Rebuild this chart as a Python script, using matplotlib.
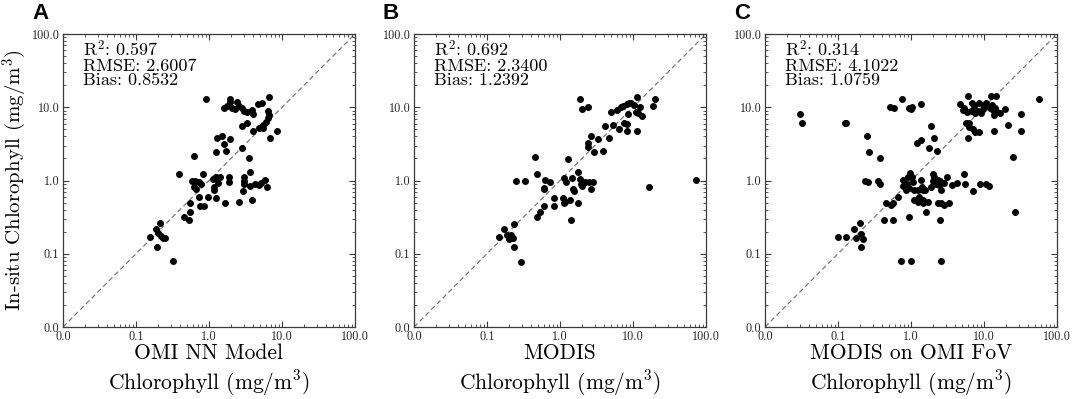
import matplotlib
matplotlib.use('Agg')
import matplotlib.pyplot as plt
from matplotlib.ticker import LogLocator, FuncFormatter, NullFormatter

plt.rcParams['font.family'] = 'cmr10'
plt.rcParams['mathtext.fontset'] = 'cm'
plt.rcParams['axes.unicode_minus'] = False
plt.rcParams['axes.formatter.use_mathtext'] = True

# ---------------- data ----------------
panel_letters = ['A', 'B', 'C']
x_titles = ['OMI NN Model', 'MODIS', 'MODIS on OMI FoV']
r2_vals = ['0.597', '0.692', '0.314']
rmse_vals = ['2.6007', '2.3400', '4.1022']
bias_vals = ['0.8532', '1.2392', '1.0759']
axis_limits = [0.01, 100.0]

# Panel A: OMI NN model vs in-situ
a_x = [0.92, 1.96, 1.92, 1.59, 1.77, 2.07, 2.43, 2.55, 2.30, 2.84,
       2.99, 3.33, 3.90, 3.98, 4.66, 5.36, 6.60, 6.40, 6.60, 6.40,
       5.95, 5.53, 4.81, 5.53, 4.03, 3.33, 2.84, 8.43, 6.75, 1.29,
       1.51, 1.92, 1.62, 1.25, 1.71, 2.84, 0.63, 3.55, 3.70, 0.84,
       0.39, 0.58, 0.65, 0.72, 0.78, 0.63, 0.67, 1.14, 1.26, 1.40,
       1.31, 1.16, 1.18, 1.86, 1.88, 0.74, 0.96, 1.26, 1.68, 0.55,
       0.76, 0.86, 0.55, 0.45, 0.54, 2.99, 3.06, 3.06, 3.70, 4.33,
       4.81, 5.08, 5.77, 6.14, 2.94, 2.59, 3.85, 0.214, 0.188, 0.203,
       0.156, 0.219, 0.233, 0.251, 0.196, 0.326]
a_y = [12.9, 12.9, 11.9, 9.84, 10.5, 9.66, 11.7, 10.5, 9.45, 9.84,
       8.87, 8.68, 9.16, 8.00, 11.0, 11.3, 13.9, 8.87, 7.82, 7.19,
       6.22, 5.71, 5.15, 5.15, 4.73, 6.03, 5.53, 4.73, 3.83, 3.76,
       4.08, 3.64, 3.14, 2.42, 2.52, 2.80, 2.13, 2.00, 1.29, 1.21,
       1.22, 0.99, 0.99, 0.96, 0.91, 0.82, 0.76, 1.04, 1.10, 1.10,
       0.93, 0.81, 0.74, 1.12, 0.96, 0.59, 0.59, 0.575, 0.50, 0.49,
       0.45, 0.45, 0.37, 0.32, 0.29, 1.12, 0.99, 0.91, 0.84, 0.89,
       0.865, 0.93, 1.01, 0.82, 0.72, 0.51, 0.54, 0.26, 0.22, 0.193,
       0.170, 0.174, 0.162, 0.162, 0.124, 0.079]

# Panel B: MODIS vs in-situ
b_x = [1.88, 1.98, 2.44, 4.92, 5.95, 6.75, 7.34, 8.15, 8.87, 9.53,
       10.3, 11.4, 12.4, 10.9, 11.8, 8.59, 13.1, 18.5, 19.9, 4.17,
       5.36, 6.47, 7.57, 8.15, 8.32, 11.4, 4.72, 2.63, 3.34, 2.39,
       2.44, 2.92, 3.91, 1.27, 0.45, 0.49, 0.62, 0.74, 0.60, 0.60,
       1.15, 1.21, 1.44, 1.78, 1.88, 1.91, 2.20, 2.52, 2.86, 1.52,
       1.57, 1.98, 2.63, 0.83, 0.84, 0.60, 1.09, 1.17, 1.15, 1.37,
       1.74, 1.40, 0.53, 0.48, 16.6, 73.8, 0.25, 0.33, 0.144, 0.173,
       0.187, 0.201, 0.212, 0.226, 0.235, 0.235, 0.296]
b_y = [12.9, 9.35, 9.96, 8.51, 9.16, 9.96, 10.4, 11.1, 11.3, 11.5,
       10.7, 13.9, 9.96, 8.69, 8.25, 8.07, 7.58, 10.4, 12.8, 5.60,
       5.72, 5.04, 6.02, 5.83, 4.73, 4.73, 3.75, 4.04, 3.64, 3.21,
       2.83, 2.47, 2.52, 1.96, 2.11, 1.22, 1.01, 0.94, 0.80, 0.76,
       1.07, 0.96, 1.07, 1.32, 1.05, 0.91, 0.96, 0.96, 0.96, 0.76,
       0.72, 0.85, 0.76, 0.57, 0.45, 0.45, 0.57, 0.51, 0.49, 0.54,
       0.49, 0.29, 0.37, 0.32, 0.82, 1.03, 1.00, 1.00, 0.170, 0.218,
       0.183, 0.161, 0.179, 0.166, 0.253, 0.124, 0.078]

# Panel C: MODIS on OMI FoV vs in-situ
c_x = [0.030, 0.032, 0.123, 0.129, 0.25, 0.27, 0.38, 0.51, 0.59, 0.75,
       0.93, 1.00, 1.03, 1.37, 1.88, 1.37, 1.21, 2.04, 1.78, 2.24,
       5.95, 4.72, 5.08, 5.36, 5.77, 6.82, 7.34, 8.15, 8.59, 7.57,
       9.05, 10.05, 10.8, 11.5, 12.4, 12.0, 12.8, 13.3, 14.8, 13.8,
       15.3, 16.5, 19.5, 5.65, 6.14, 6.27, 6.96, 7.57, 8.41, 6.08,
       31.9, 31.9, 13.8, 21.6, 25.3, 6.6, 9.7, 14.3, 56.8, 26.7,
       0.235, 0.26, 0.35, 0.38, 0.77, 0.90, 0.97, 1.03, 1.05, 0.87,
       0.77, 0.95, 0.85, 1.37, 1.41, 1.11, 1.23, 1.44, 1.57, 1.88,
       1.98, 2.08, 2.02, 2.20, 2.31, 2.44, 2.57, 2.49, 3.07, 2.86,
       3.63, 4.21, 5.36, 5.53, 6.96, 8.87, 10.6, 11.8, 1.11, 1.23,
       1.30, 1.44, 1.47, 1.69, 2.31, 2.57, 2.86, 3.27, 0.45, 0.53,
       0.57, 0.66, 0.43, 0.56, 0.93, 1.60, 2.49, 0.0995, 0.127, 0.168,
       0.177, 0.203, 0.207, 0.223, 0.207, 0.73, 1.00, 2.57]
c_y = [8.07, 6.01, 6.01, 6.01, 4.08, 2.47, 2.00, 10.0, 9.64, 12.9,
       9.64, 9.34, 10.0, 11.0, 5.53, 3.56, 3.20, 3.75, 2.74, 2.52,
       14.2, 11.0, 9.15, 9.64, 8.68, 11.3, 10.4, 8.96, 11.5, 8.24,
       8.24, 10.7, 11.5, 10.4, 14.2, 9.64, 10.7, 9.15, 14.2, 7.82,
       8.68, 8.24, 9.34, 6.01, 6.14, 5.41, 4.98, 4.63, 4.63, 3.75,
       8.06, 4.72, 4.72, 5.70, 2.11, 8.96, 9.34, 9.9, 12.9, 0.37,
       1.00, 0.96, 0.99, 0.89, 1.03, 1.10, 1.27, 1.10, 0.96, 0.89,
       0.84, 0.78, 0.75, 1.03, 0.82, 0.74, 0.74, 0.75, 0.75, 0.82,
       1.22, 1.10, 0.99, 0.91, 1.03, 0.86, 0.75, 0.99, 1.10, 0.93,
       0.86, 0.93, 1.22, 0.91, 0.72, 0.91, 0.91, 0.85, 0.55, 0.51,
       0.59, 0.55, 0.50, 0.51, 0.50, 0.49, 0.46, 0.49, 0.49, 0.46,
       0.49, 0.59, 0.29, 0.29, 0.32, 0.37, 0.29, 0.170, 0.170, 0.221,
       0.165, 0.259, 0.185, 0.158, 0.124, 0.079, 0.079, 0.079]

xs = [a_x, b_x, c_x]
ys = [a_y, b_y, c_y]

# ---------------- layout ----------------
W, H = 1072, 399
fig = plt.figure(figsize=(W / 100, H / 100), dpi=100)
ax_lefts = [63, 414, 765]
ax_w, ax_h, ax_bottom = 292, 293, 72

spine_col = '#3a3a3a'
fmt = FuncFormatter(lambda v, p: '{:.1f}'.format(v))

for i in range(3):
    ax = fig.add_axes([ax_lefts[i] / W, ax_bottom / H, ax_w / W, ax_h / H])
    ax.set_xscale('log')
    ax.set_yscale('log')
    ax.plot(axis_limits, axis_limits, ls=(0, (4, 2.5)), color='#7a7a7a', lw=0.9, zorder=1)
    ax.scatter(xs[i], ys[i], s=25, c='black', linewidths=0, zorder=3)
    ax.set_xlim(axis_limits)
    ax.set_ylim(axis_limits)
    for axis in (ax.xaxis, ax.yaxis):
        axis.set_major_locator(LogLocator(base=10, numticks=10))
        axis.set_minor_locator(LogLocator(base=10, subs=range(2, 10), numticks=20))
        axis.set_major_formatter(fmt)
        axis.set_minor_formatter(NullFormatter())
    ax.tick_params(which='both', direction='in', top=True, right=True,
                   color=spine_col)
    ax.tick_params(which='major', length=4, width=0.8, labelsize=8.8, pad=2.5,
                   labelcolor='#222222')
    ax.tick_params(which='minor', length=2, width=0.6)
    for sp in ax.spines.values():
        sp.set_color(spine_col)
        sp.set_linewidth(0.9)

    ax.set_xlabel(x_titles[i] + '\nChlorophyll (mg/m$^3$)', fontsize=15.5,
                  linespacing=1.28)
    ax.xaxis.set_label_coords(0.5, -0.055)
    if i == 0:
        ax.set_ylabel('In-situ Chlorophyll (mg/m$^3$)', fontsize=15)
        ax.yaxis.set_label_coords(-0.118, 0.5)

    tx = 0.07
    ax.text(tx, 0.922, 'R$^2$: ' + r2_vals[i], transform=ax.transAxes,
            fontsize=13, va='baseline', ha='left')
    ax.text(tx, 0.873, 'RMSE: ' + rmse_vals[i], transform=ax.transAxes,
            fontsize=13, va='baseline', ha='left')
    ax.text(tx, 0.826, 'Bias: ' + bias_vals[i], transform=ax.transAxes,
            fontsize=13, va='baseline', ha='left')

    fig.text((ax_lefts[i] - 31) / W, 1 - 3 / H, panel_letters[i],
             fontfamily='Liberation Sans', fontweight='bold', fontsize=16,
             va='top', ha='left')

fig.savefig('out.png', dpi=100)
